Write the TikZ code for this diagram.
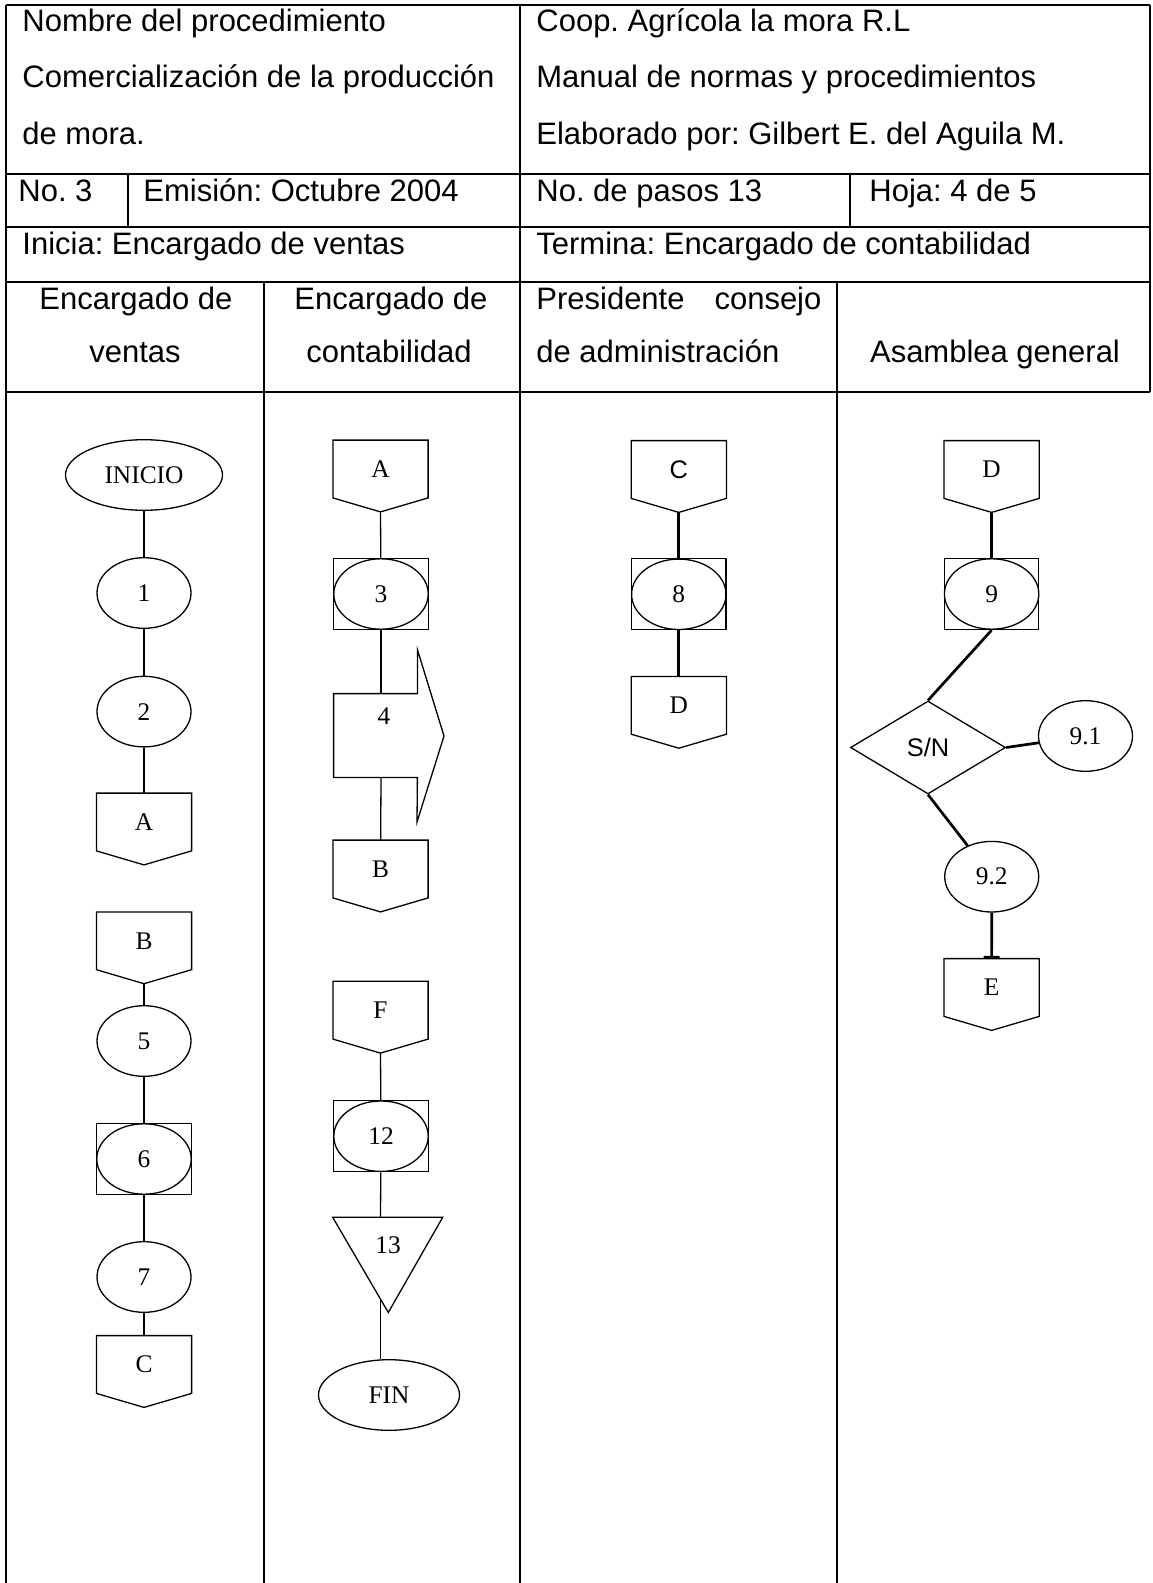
\documentclass[tikz,border=0pt]{standalone}
\usepackage{fontspec}
\setmainfont{Liberation Serif}
\newfontfamily\arial{Liberation Sans}
\usetikzlibrary{shapes.geometric,arrows.meta,calc}
\frenchspacing

\tikzset{
  cab/.style={anchor=base west, inner sep=0pt, font=\arial\fontsize{15.5}{18}\selectfont},
  cabc/.style={cab, anchor=base},
  linea/.style={line width=0.65pt},
  gruesa/.style={line width=1.35pt},
  tabla/.style={line width=0.85pt},
  elip/.style={draw, ellipse, linea, minimum width=47pt, minimum height=35.3pt,
    inner sep=0pt, font=\fontsize{12.7}{15}\selectfont},
  conn/.style={minimum width=47.2pt, minimum height=28.5pt, inner sep=0pt,
    font=\fontsize{12.7}{15}\selectfont},
  caja/.style={draw, linea, minimum width=47.2pt, minimum height=35.5pt, inner sep=0pt},
}

\begin{document}
\begin{tikzpicture}[x=0.5pt,y=-0.5pt]
\useasboundingbox (0,0) rectangle (1152,1583);

% conector de pagina: nombre, x, y, letra
\newcommand{\conector}[4]{
  \node[conn] (#1) at (#2,#3) {#4};
  \draw[linea] (#1.north west) -- (#1.north east) -- (#1.south east)
    -- ($(#1.south)+(0,14)$) -- (#1.south west) -- cycle;
  \coordinate (#1p) at ($(#1.south)+(0,14)$);
}
% operacion con inspeccion: nombre, x, y, numero
\newcommand{\proceso}[4]{
  \node[caja] (#1) at (#2,#3) {};
  \node[elip, minimum width=47.2pt, minimum height=35.2pt] (#1e) at (#1) {#4};
}

% tabla
\draw[tabla] (6,5) -- (1150,5);
\draw[tabla] (6,174) -- (1150,174);
\draw[tabla] (6,227) -- (1150,227);
\draw[tabla] (6,282) -- (1150,282);
\draw[line width=1.4pt] (6,392) -- (1150,392);
\draw[tabla] (6,5) -- (6,1583);
\draw[tabla] (520,5) -- (520,1583);
\draw[tabla] (1150,5) -- (1150,392);
\draw[tabla] (128,174) -- (128,227);
\draw[tabla] (850,174) -- (850,227);
\foreach \x in {264,837}
  \draw[tabla] (\x,282) -- (\x,1583);

% encabezado
\node[cab] (h1) at (22,32) {Nombre del procedimiento};
\node[cab] (h2) at (22,88) {Comercialización de la producción};
\node[cab] (h3) at (22,145) {de mora.};
\node[cab] (h4) at (536,32) {Coop. Agrícola la mora R.L};
\node[cab] (h5) at (536,88) {Manual de normas y procedimientos};
\node[cab] (h6) at (536,145) {Elaborado por: Gilbert E. del Aguila M.};
\node[cab] (h7) at (18,202) {No. 3};
\node[cab] (h8) at (143,202) {Emisión: Octubre 2004};
\node[cab] (h9) at (536,202) {No. de pasos 13};
\node[cab] (h10) at (869,202) {Hoja: 4 de 5};
\node[cab] (h11) at (22,255) {Inicia: Encargado de ventas};
\node[cab] (h12) at (536,255) {Termina: Encargado de contabilidad};
\node[cabc] (c1a) at (136,310) {Encargado de};
\node[cabc] (c1b) at (135,363) {ventas};
\node[cabc] (c2a) at (391,310) {Encargado de};
\node[cabc] (c2b) at (389,363) {contabilidad};
\node[cab] (c3a) at (536,310) {\makebox[142.5pt][s]{Presidente consejo}};
\node[cab] (c3b) at (536,363) {de administración};
\node[cabc] (c4a) at (995,363) {Asamblea general};

% encargado de ventas
\node[elip, minimum width=78.5pt] (ini) at (144,475) {INICIO};
\node[elip] (n1) at (144,593) {1};
\node[elip] (n2) at (144,711.6) {2};
\conector{A1}{144}{822}{A}
\conector{B1}{144}{940.8}{B}
\node[elip] (n5) at (144,1041) {5};
\proceso{p6}{144}{1159}{6}
\node[elip] (n7) at (144,1277) {7};
\conector{C1}{144}{1364.5}{C}
\foreach \a/\b in {ini/n1, n1/n2, n2/A1, B1p/n5, n5/p6, p6/n7, n7/C1}
  \draw[linea] (\a) -- (\b);

% encargado de contabilidad
\conector{A2}{380.5}{469}{A}
\proceso{p3}{381}{594}{3}
\node[minimum width=41.5pt, minimum height=41.5pt, inner sep=0pt] (s4) at (375.5,735.5) {};
\draw[linea] (s4.north west) -- (s4.north east) -- ++(0,-44) -- (444,736)
  -- (417,822) -- (s4.south east) -- (s4.south west) -- cycle;
\node[font=\fontsize{12.7}{15}\selectfont, inner sep=0pt] (n4) at (384,716) {4};
\conector{B2}{380.5}{869}{B}
\conector{F2}{380.5}{1010.2}{F}
\proceso{p12}{381}{1136.2}{12}
\draw[linea] (332.7,1217.3) -- (442.7,1217.3) -- (388.3,1312.5) -- cycle;
\node[font=\fontsize{12.7}{15}\selectfont, inner sep=0pt] (t13) at (388,1245) {13};
\coordinate (t13n) at (380.5,1217.3);
\coordinate (t13s) at (380.5,1299);
\node[elip, minimum width=70.5pt] (fin) at (389,1395) {FIN};
\draw[linea] (A2p) -- (p3);
\draw[linea] (p3) -- (p3 |- s4.north);
\draw[linea] (p3 |- s4.south) -- (B2);
\draw[linea] (F2p) -- (p12);
\draw[linea] (p12) -- (t13n);
\draw[linea] (t13s) -- (t13s |- fin.north);

% presidente consejo de administracion
\conector{C3}{678.8}{469.5}{\arial C}
\proceso{p8}{678.8}{594.3}{8}
\conector{D3}{678.8}{705.3}{D}
\draw[gruesa] (C3p) -- (p8);
\draw[gruesa] (p8) -- (D3);

% asamblea general
\conector{D4}{991.6}{469.5}{D}
\proceso{p9}{991.6}{594}{9}
\node[draw, diamond, linea, minimum width=77.5pt, minimum height=46.5pt, inner sep=0pt,
  font=\arial\fontsize{12.7}{15}\selectfont] (sn) at (928,747.5) {S/N};
\node[elip] (n91) at (1085.5,736) {9.1};
\node[elip] (n92) at (991.7,876.7) {9.2};
\conector{E4}{991.6}{987.5}{E}
\draw[gruesa] (D4p) -- (p9);
\draw[gruesa] (p9.south) -- (sn.north);
\draw[gruesa] (sn.east) -- (n91);
\draw[gruesa] (sn.south) -- (n92);
\draw[gruesa, -{Bar[width=8pt]}] (n92) -- (E4);
\end{tikzpicture}
\end{document}
